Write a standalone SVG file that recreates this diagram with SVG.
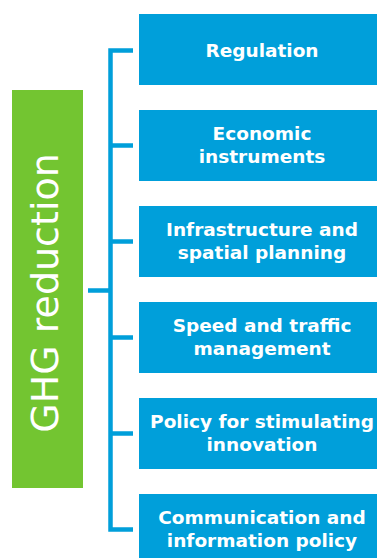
<svg xmlns="http://www.w3.org/2000/svg" width="377" height="558" viewBox="0 0 377 558">
<style>
.box{fill:#009fda;}
.lbl{fill:#ffffff;font-family:"DejaVu Sans",sans-serif;font-weight:bold;font-size:18.5px;text-anchor:middle;}
.conn{stroke:#009fda;stroke-width:4.5;fill:none;}
</style>
<rect width="377" height="558" fill="#ffffff"/>
<g id="root">
<rect x="12" y="90" width="71" height="398" fill="#73c531"/>
<text transform="translate(58,293) rotate(-90)" fill="#ffffff" font-family="DejaVu Sans,sans-serif" font-size="38" text-anchor="middle">GHG reduction</text>
</g>
<g id="connectors">
<path class="conn" d="M88,290.5 H110.5 M110.5,48.3 V531.7 M108.3,50.5 H133 M110.5,145.5 H133 M110.5,241.5 H133 M110.5,337.5 H133 M110.5,433.5 H133 M108.3,529.5 H133"/>
</g>
<g id="n1"><rect class="box" x="139" y="14" width="238" height="71"/><text class="lbl" x="262" y="56.5">Regulation</text></g>
<g id="n2"><rect class="box" x="139" y="110" width="238" height="71"/><text class="lbl" x="262" y="140">Economic</text><text class="lbl" x="262" y="163">instruments</text></g>
<g id="n3"><rect class="box" x="139" y="206" width="238" height="71"/><text class="lbl" x="262" y="236">Infrastructure and</text><text class="lbl" x="262" y="259">spatial planning</text></g>
<g id="n4"><rect class="box" x="139" y="302" width="238" height="71"/><text class="lbl" x="262" y="332">Speed and traffic</text><text class="lbl" x="262" y="355">management</text></g>
<g id="n5"><rect class="box" x="139" y="398" width="238" height="71"/><text class="lbl" x="262" y="428">Policy for stimulating</text><text class="lbl" x="262" y="451">innovation</text></g>
<g id="n6"><rect class="box" x="139" y="494" width="238" height="71"/><text class="lbl" x="262" y="524">Communication and</text><text class="lbl" x="262" y="547">information policy</text></g>
</svg>
